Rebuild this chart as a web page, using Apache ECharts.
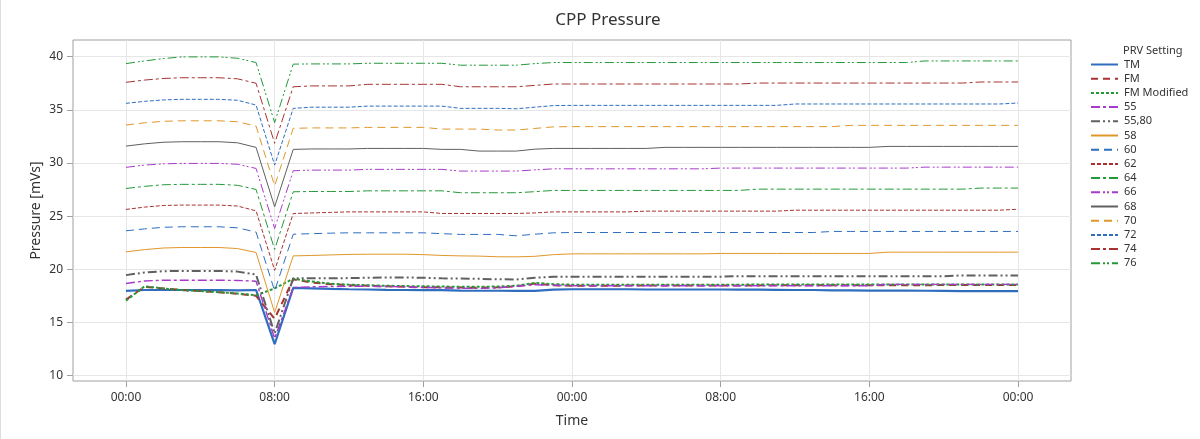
<!DOCTYPE html>
<html>
<head>
<meta charset="utf-8">
<script src="https://cdn.jsdelivr.net/npm/echarts@6/dist/echarts.min.js"></script>
<style>html,body{margin:0;padding:0;background:#fff}#c{width:1200px;height:439px}</style>
</head>
<body>
<div id="c"></div>
<script>
// hours since start (0..48)
const HOURS = [0,1,2,3,4,5,6,7,8,9,10,11,12,13,14,15,16,17,18,19,20,21,22,23,24,25,26,27,28,29,30,31,32,33,34,35,36,37,38,39,40,41,42,43,44,45,46,47,48];
const X_TICKS = [0,8,16,24,32,40,48];
const Y_TICKS = [10,15,20,25,30,35,40];
const SERIES_NAMES = ['TM','FM','FM Modified','55','55,80','58','60','62','64','66','68','70','72','74','76'];

const TM = [17.97,18.05,18.05,18.05,18.04,18.03,18.02,18.05,12.95,18.25,18.2,18.15,18.12,18.1,18.06,18.05,18.04,18.03,18.0,17.98,17.98,17.97,17.97,18.08,18.12,18.12,18.12,18.12,18.1,18.1,18.1,18.1,18.1,18.08,18.08,18.07,18.05,18.05,18.02,18.02,18.0,18.0,18.0,17.98,17.97,17.95,17.95,17.94,17.94];
const FM = [17.15,18.35,18.2,18.05,17.95,17.85,17.7,17.5,15.35,19.05,18.75,18.6,18.5,18.45,18.4,18.35,18.3,18.3,18.28,18.25,18.3,18.4,18.65,18.5,18.45,18.45,18.45,18.47,18.47,18.47,18.48,18.48,18.48,18.48,18.48,18.5,18.5,18.5,18.5,18.5,18.5,18.5,18.5,18.5,18.52,18.52,18.52,18.52,18.52];
const FM_MOD = [17.05,18.4,18.2,18.05,17.95,17.85,17.72,17.55,18.2,19.12,18.85,18.65,18.55,18.5,18.45,18.42,18.4,18.38,18.35,18.35,18.38,18.45,18.72,18.6,18.55,18.55,18.55,18.55,18.55,18.55,18.55,18.55,18.55,18.55,18.57,18.57,18.57,18.57,18.57,18.57,18.57,18.57,18.57,18.57,18.58,18.58,18.58,18.58,18.58];
const S55 = [18.66,18.9,18.97,18.97,18.97,18.97,18.95,18.88,13.5,18.28,18.35,18.38,18.4,18.4,18.38,18.35,18.3,18.25,18.22,18.2,18.25,18.4,18.55,18.5,18.45,18.45,18.45,18.45,18.45,18.45,18.45,18.45,18.45,18.45,18.45,18.45,18.45,18.45,18.45,18.45,18.45,18.58,18.58,18.58,18.58,18.58,18.58,18.58,18.58];
const S55_80 = [19.45,19.7,19.82,19.85,19.85,19.85,19.78,19.5,13.96,19.15,19.15,19.15,19.17,19.2,19.23,19.23,19.2,19.15,19.13,19.1,19.06,19.04,19.2,19.3,19.3,19.3,19.3,19.3,19.3,19.3,19.3,19.3,19.3,19.35,19.35,19.35,19.35,19.35,19.35,19.35,19.35,19.35,19.35,19.35,19.35,19.42,19.42,19.42,19.42];
const S58 = [21.64,21.85,22.0,22.05,22.05,22.05,21.95,21.58,15.93,21.26,21.3,21.35,21.4,21.42,21.42,21.42,21.38,21.3,21.26,21.24,21.18,21.17,21.22,21.38,21.45,21.45,21.45,21.45,21.45,21.45,21.45,21.45,21.49,21.49,21.49,21.49,21.49,21.49,21.49,21.49,21.49,21.61,21.61,21.61,21.61,21.61,21.61,21.61,21.61];
const S60 = [23.62,23.8,23.95,24.0,24.0,24.0,23.9,23.5,17.97,23.3,23.35,23.4,23.43,23.43,23.43,23.43,23.43,23.35,23.28,23.28,23.28,23.15,23.3,23.43,23.46,23.46,23.46,23.46,23.46,23.46,23.46,23.46,23.46,23.46,23.46,23.46,23.46,23.46,23.56,23.56,23.56,23.56,23.56,23.56,23.56,23.56,23.56,23.56,23.56];
const S62 = [25.63,25.85,26.0,26.04,26.04,26.04,25.95,25.5,19.9,25.25,25.3,25.35,25.4,25.4,25.4,25.4,25.4,25.25,25.25,25.25,25.25,25.25,25.3,25.4,25.4,25.4,25.4,25.4,25.47,25.47,25.47,25.47,25.47,25.47,25.47,25.47,25.56,25.56,25.56,25.56,25.56,25.56,25.56,25.56,25.56,25.56,25.56,25.56,25.65];
const S64 = [27.6,27.8,27.95,27.99,27.99,27.99,27.9,27.51,21.86,27.29,27.32,27.32,27.32,27.38,27.38,27.38,27.38,27.38,27.2,27.2,27.2,27.2,27.3,27.42,27.42,27.42,27.42,27.42,27.42,27.42,27.42,27.42,27.42,27.42,27.54,27.54,27.54,27.54,27.54,27.54,27.54,27.54,27.54,27.54,27.54,27.54,27.64,27.64,27.64];
const S66 = [29.59,29.8,29.92,29.96,29.96,29.96,29.88,29.49,23.84,29.27,29.33,29.33,29.33,29.4,29.4,29.4,29.4,29.4,29.24,29.24,29.24,29.24,29.35,29.45,29.45,29.45,29.45,29.45,29.45,29.45,29.45,29.45,29.52,29.52,29.52,29.52,29.52,29.52,29.52,29.52,29.52,29.52,29.52,29.61,29.61,29.61,29.61,29.61,29.61];
const S68 = [31.59,31.8,31.95,32.0,32.0,32.0,31.9,31.47,25.88,31.28,31.32,31.32,31.32,31.37,31.37,31.37,31.37,31.28,31.28,31.12,31.12,31.12,31.3,31.37,31.37,31.37,31.37,31.37,31.37,31.47,31.47,31.47,31.47,31.47,31.47,31.47,31.47,31.47,31.47,31.47,31.47,31.56,31.56,31.56,31.56,31.56,31.56,31.56,31.56];
const S70 = [33.57,33.78,33.92,33.97,33.97,33.97,33.88,33.47,27.85,33.26,33.3,33.3,33.3,33.35,33.35,33.35,33.35,33.19,33.19,33.19,33.1,33.1,33.25,33.4,33.42,33.42,33.42,33.42,33.42,33.42,33.42,33.42,33.42,33.42,33.42,33.42,33.42,33.42,33.42,33.54,33.54,33.54,33.54,33.54,33.54,33.54,33.54,33.54,33.54];
const S72 = [35.61,35.8,35.93,35.99,35.99,35.99,35.9,35.45,29.8,35.14,35.25,35.25,35.25,35.35,35.35,35.35,35.35,35.35,35.14,35.14,35.14,35.1,35.25,35.4,35.42,35.42,35.42,35.42,35.42,35.42,35.42,35.42,35.42,35.42,35.42,35.42,35.55,35.55,35.55,35.55,35.55,35.55,35.55,35.55,35.55,35.55,35.55,35.55,35.64];
const S74 = [37.59,37.8,37.95,38.02,38.02,38.02,37.92,37.5,31.85,37.17,37.25,37.25,37.25,37.4,37.4,37.4,37.4,37.4,37.17,37.17,37.17,37.17,37.3,37.43,37.43,37.43,37.43,37.43,37.43,37.43,37.43,37.43,37.43,37.43,37.52,37.52,37.52,37.52,37.52,37.52,37.52,37.52,37.52,37.52,37.52,37.52,37.62,37.62,37.62];
const S76 = [39.35,39.6,39.82,39.98,39.98,39.98,39.85,39.45,33.8,39.3,39.32,39.32,39.32,39.38,39.38,39.38,39.38,39.38,39.2,39.2,39.2,39.2,39.35,39.45,39.45,39.45,39.45,39.45,39.45,39.45,39.45,39.45,39.45,39.45,39.45,39.45,39.45,39.45,39.45,39.45,39.45,39.45,39.45,39.6,39.6,39.6,39.6,39.6,39.6];

const VALUES = [TM, FM, FM_MOD, S55, S55_80, S58, S60, S62, S64, S66, S68, S70, S72, S74, S76];

const C = {blue:'#2f6ebf', red:'#a83232', green:'#24993a', purple:'#a83acb', gray:'#606060', orange:'#e0972a'};
const STYLES = [
  {color:C.blue,   width:2.2, type:'solid'},
  {color:C.red,    width:2,   type:[7,5]},
  {color:C.green,  width:2,   type:[3,2]},
  {color:C.purple, width:1.4, type:[9,3,3,3]},
  {color:C.gray,   width:2,   type:[9,3,2,3,2,3]},
  {color:C.orange, width:1,   type:'solid'},
  {color:C.blue,   width:1,   type:[8,5]},
  {color:C.red,    width:1,   type:[4,2]},
  {color:C.green,  width:1,   type:[9,3,3,3]},
  {color:C.purple, width:1,   type:[9,3,2,2,2,3]},
  {color:C.gray,   width:1,   type:'solid'},
  {color:C.orange, width:1,   type:[8,5]},
  {color:C.blue,   width:1,   type:[4,2]},
  {color:C.red,    width:1,   type:[9,3,3,3]},
  {color:C.green,  width:1,   type:[9,3,2,2,2,3]}
];

const FONT = 'Noto Sans';
const chart = echarts.init(document.getElementById('c'), null, {renderer:'canvas'});
const series = SERIES_NAMES.map((name, i) => ({
  name: name,
  type: 'line',
  symbol: 'none',
  showSymbol: false,
  animation: false,
  color: STYLES[i].color,
  lineStyle: {color: STYLES[i].color, width: STYLES[i].width, type: STYLES[i].type},
  data: HOURS.map((h, k) => [h, VALUES[i][k]])
}));

chart.setOption({
  backgroundColor: '#fff',
  animation: false,
  textStyle: {fontFamily: FONT},
  title: {text: 'CPP Pressure', left: 603, textAlign: 'center', top: 7,
    textStyle: {fontFamily: FONT, fontSize: 17, fontWeight: 'normal', color: '#333'}},
  grid: {left: 73, right: 129, top: 40, bottom: 58, show: true, borderColor: '#a0a0a0', borderWidth: 1, containLabel: false},
  legend: {
    orient: 'vertical', left: 1090, top: 59, padding: 0,
    itemWidth: 27, itemHeight: 10, itemGap: 3.2,
    itemStyle: {opacity: 0},
    textStyle: {fontFamily: FONT, fontSize: 11, color: '#333', padding: [0,0,0,1]},
    data: SERIES_NAMES
  },
  graphic: [
    {type: 'text', left: 1123, top: 45, style: {text: 'PRV Setting', font: '11px "Noto Sans"', fill: '#333'}},
    {type: 'line', shape: {x1: 0.5, y1: 0, x2: 0.5, y2: 439}, style: {stroke: '#dddddd', lineWidth: 1}}
  ],
  xAxis: {
    type: 'value', min: -2.85, max: 50.85,
    name: 'Time', nameLocation: 'middle', nameGap: 33, nameMoveOverlap: false,
    nameTextStyle: {fontFamily: FONT, fontSize: 14, color: '#333'},
    axisLine: {show: false, onZero: false},
    axisTick: {show: true, customValues: X_TICKS, length: 6, lineStyle: {color: '#a0a0a0'}},
    axisLabel: {customValues: X_TICKS, margin: 11, color: '#333', fontSize: 12, fontFamily: FONT,
      formatter: v => String(Math.round(v) % 24).padStart(2, '0') + ':00'},
    splitLine: {show: true, lineStyle: {color: '#e6e6e6', width: 1}}
  },
  yAxis: {
    type: 'value', min: 9.49, max: 41.57,
    name: 'Pressure [mVs]', nameLocation: 'middle', nameGap: 30, nameMoveOverlap: false,
    nameTextStyle: {fontFamily: FONT, fontSize: 14, color: '#333'},
    axisLine: {show: false, onZero: false},
    axisTick: {show: true, customValues: Y_TICKS, length: 6, lineStyle: {color: '#a0a0a0'}},
    axisLabel: {customValues: Y_TICKS, margin: 10, color: '#333', fontSize: 12, fontFamily: FONT},
    splitLine: {show: true, lineStyle: {color: '#e6e6e6', width: 1}}
  },
  series: series
});
</script>
</body>
</html>
